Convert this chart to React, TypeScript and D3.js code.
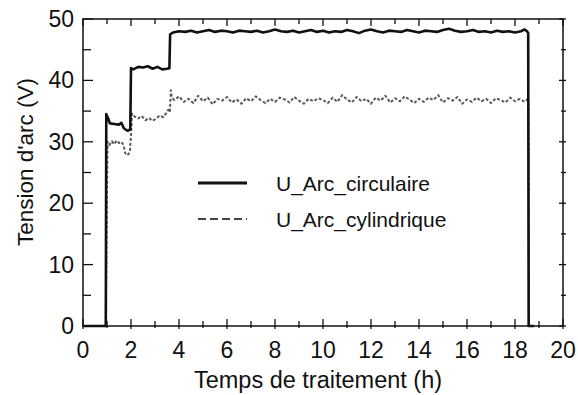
import * as d3 from "d3";

// U_Arc_circulaire: [time (h), voltage (V)]
const CIRC: [number, number][] = [
  [0, 0], [0.95, 0], [0.97, 34.5], [1.05, 33.8], [1.12, 33.0], [1.3, 32.9], [1.5, 32.8],
  [1.6, 33.1], [1.7, 32.2], [1.85, 31.8], [1.97, 32.0], [2.0, 42.0], [2.1, 41.8],
  [2.3, 42.2], [2.5, 42.1], [2.7, 42.3], [2.9, 41.9], [3.1, 42.2], [3.3, 41.8],
  [3.5, 41.9], [3.6, 42.0], [3.63, 47.5],
  [3.75, 47.8], [4.0, 48.0], [4.25, 47.9], [4.5, 48.1], [4.75, 47.8], [5.0, 48.0],
  [5.25, 48.2], [5.5, 47.9], [5.75, 48.1], [6.0, 48.0], [6.25, 47.8], [6.5, 48.1],
  [6.75, 48.0], [7.0, 47.9], [7.25, 48.1], [7.5, 47.8], [7.75, 48.0], [8.0, 48.3],
  [8.25, 48.0], [8.5, 47.9], [8.75, 48.1], [9.0, 47.8], [9.25, 48.0], [9.5, 48.2],
  [9.75, 47.9], [10.0, 48.1], [10.25, 47.8], [10.5, 48.0], [10.75, 47.9], [11.0, 48.2],
  [11.25, 48.0], [11.5, 47.7], [11.75, 48.1], [12.0, 48.3], [12.25, 48.0], [12.5, 47.8],
  [12.75, 48.1], [13.0, 48.0], [13.25, 47.9], [13.5, 48.2], [13.75, 48.0], [14.0, 47.8],
  [14.25, 48.1], [14.5, 48.0], [14.75, 47.9], [15.0, 48.2], [15.25, 48.4], [15.5, 48.1],
  [15.75, 47.9], [16.0, 48.0], [16.25, 48.2], [16.5, 47.9], [16.75, 48.0], [17.0, 47.8],
  [17.25, 48.1], [17.5, 47.9], [17.75, 48.0], [18.0, 47.8], [18.25, 48.0], [18.4, 48.3],
  [18.5, 48.0], [18.55, 47.7], [18.57, 0], [18.8, 0],
];

// U_Arc_cylindrique: [time (h), voltage (V)]
const CYL: [number, number][] = [
  [0, 0], [0.95, 0], [1.0, 22], [1.02, 30], [1.1, 29.5], [1.2, 30.1], [1.3, 29.6],
  [1.4, 30.2], [1.5, 29.8], [1.6, 30.0], [1.7, 29.4], [1.75, 28.2], [1.85, 27.8],
  [1.95, 28.3], [2.0, 31], [2.04, 34.6], [2.15, 34.1], [2.3, 33.8], [2.45, 34.2],
  [2.6, 33.5], [2.75, 33.9], [2.9, 33.4], [3.05, 33.8], [3.2, 34.3], [3.35, 34.0],
  [3.45, 34.6], [3.55, 35.2], [3.62, 34.8], [3.66, 38.4], [3.7, 37.2],
  [3.8, 36.8], [4.0, 37.4], [4.2, 36.5], [4.4, 37.0], [4.6, 36.3], [4.8, 37.5],
  [5.0, 36.6], [5.2, 37.2], [5.4, 36.1], [5.6, 37.0], [5.8, 36.7], [6.0, 37.3],
  [6.2, 36.4], [6.4, 36.9], [6.6, 36.2], [6.8, 37.1], [7.0, 36.6], [7.2, 37.4],
  [7.4, 36.8], [7.6, 36.3], [7.8, 37.0], [8.0, 36.5], [8.2, 37.2], [8.4, 36.9],
  [8.6, 36.4], [8.8, 37.3], [9.0, 36.7], [9.2, 36.2], [9.4, 37.0], [9.6, 36.6],
  [9.8, 37.1], [10.0, 36.8], [10.2, 36.3], [10.4, 37.2], [10.6, 36.5], [10.8, 37.6],
  [11.0, 36.9], [11.2, 36.4], [11.4, 37.3], [11.6, 36.6], [11.8, 37.0], [12.0, 36.2],
  [12.2, 37.2], [12.4, 36.7], [12.6, 37.5], [12.8, 36.4], [13.0, 37.1], [13.2, 36.6],
  [13.4, 37.4], [13.6, 36.9], [13.8, 36.3], [14.0, 37.0], [14.2, 36.5], [14.4, 37.2],
  [14.6, 36.8], [14.8, 37.6], [15.0, 36.4], [15.2, 37.1], [15.4, 36.7], [15.6, 37.3],
  [15.8, 36.2], [16.0, 36.9], [16.2, 36.5], [16.4, 37.2], [16.6, 36.6], [16.8, 37.0],
  [17.0, 36.3], [17.2, 37.1], [17.4, 36.8], [17.6, 36.4], [17.8, 37.2], [18.0, 36.6],
  [18.2, 37.0], [18.4, 36.5], [18.5, 36.9], [18.56, 36.2], [18.58, 0], [18.8, 0],
];

const X_TICKS = [0, 2, 4, 6, 8, 10, 12, 14, 16, 18, 20];
const X_MINOR = [1, 3, 5, 7, 9, 11, 13, 15, 17, 19];
const Y_TICKS = [0, 10, 20, 30, 40, 50];
const Y_MINOR = [5, 15, 25, 35, 45];

const LEGEND = [
  { label: "U_Arc_circulaire", dash: "none", color: "#111", width: 3 },
  { label: "U_Arc_cylindrique", dash: "8,4", color: "#444", width: 2 },
];

const FONT = "'Liberation Sans', Arial, sans-serif";

export default function App() {
  const width = 578;
  const height = 395;
  const margin = { top: 19, right: 15, bottom: 69, left: 83 };
  const innerW = width - margin.left - margin.right;
  const innerH = height - margin.top - margin.bottom;

  const x = d3.scaleLinear().domain([0, 20]).range([0, innerW]);
  const y = d3.scaleLinear().domain([0, 50]).range([innerH, 0]);

  const line = d3
    .line<[number, number]>()
    .x((d) => x(d[0]))
    .y((d) => y(d[1]));

  const major = 7;
  const minor = 5;

  return (
    <svg
      width={width}
      height={height}
      style={{ position: "absolute", left: 0, top: 0, background: "#fff" }}
      fontFamily={FONT}
    >
      <g transform={`translate(${margin.left},${margin.top})`}>
        {/* Series */}
        <path
          d={line(CYL) ?? ""}
          fill="none"
          stroke="#5a5a5a"
          strokeWidth={2}
          strokeDasharray="3,2"
          strokeLinejoin="round"
        />
        <path
          d={line(CIRC) ?? ""}
          fill="none"
          stroke="#111"
          strokeWidth={2.6}
          strokeLinejoin="round"
        />

        {/* Frame */}
        <rect x={0} y={0} width={innerW} height={innerH} fill="none" stroke="#111" strokeWidth={1.5} />

        {/* X ticks (bottom and top) */}
        {X_TICKS.map((t) => (
          <g key={`xt${t}`} stroke="#111" strokeWidth={1.3}>
            <line x1={x(t)} x2={x(t)} y1={innerH + 3} y2={innerH - major} />
            <line x1={x(t)} x2={x(t)} y1={0} y2={major} />
          </g>
        ))}
        {X_MINOR.map((t) => (
          <g key={`xm${t}`} stroke="#111" strokeWidth={1.3}>
            <line x1={x(t)} x2={x(t)} y1={innerH + 2} y2={innerH - minor} />
            <line x1={x(t)} x2={x(t)} y1={0} y2={minor} />
          </g>
        ))}
        {/* Y ticks (left and right) */}
        {Y_TICKS.map((t) => (
          <g key={`yt${t}`} stroke="#111" strokeWidth={1.3}>
            <line x1={0} x2={major + 3} y1={y(t)} y2={y(t)} />
            <line x1={innerW - major + 3} x2={innerW + 3} y1={y(t)} y2={y(t)} />
          </g>
        ))}
        {Y_MINOR.map((t) => (
          <g key={`ym${t}`} stroke="#111" strokeWidth={1.3}>
            <line x1={0} x2={minor + 3} y1={y(t)} y2={y(t)} />
            <line x1={innerW - minor + 3} x2={innerW + 3} y1={y(t)} y2={y(t)} />
          </g>
        ))}

        {/* Tick labels */}
        {X_TICKS.map((t) => (
          <text key={`xl${t}`} x={x(t)} y={innerH + 32} fontSize={23} textAnchor="middle" fill="#111">
            {t}
          </text>
        ))}
        {Y_TICKS.map((t) => (
          <text
            key={`yl${t}`}
            x={-9}
            y={y(t)}
            fontSize={23}
            textAnchor="end"
            dominantBaseline="central"
            fill="#111"
          >
            {t}
          </text>
        ))}

        {/* Legend */}
        {LEGEND.map((l, i) => (
          <g key={l.label} transform={`translate(115,${164 + i * 36})`}>
            <line x1={0} x2={49} y1={0} y2={0} stroke={l.color} strokeWidth={l.width} strokeDasharray={l.dash} />
            <text x={78} y={0} fontSize={21} dominantBaseline="central" fill="#111">
              {l.label}
            </text>
          </g>
        ))}

        {/* Axis titles */}
        <text x={innerW / 2 - 5} y={innerH + 62} fontSize={23.5} textAnchor="middle" fill="#111">
          Temps de traitement (h)
        </text>
        <text
          transform={`translate(${-50},${143}) rotate(-90)`}
          fontSize={22.5}
          textAnchor="middle"
          fill="#111"
        >
          Tension d'arc (V)
        </text>
      </g>
    </svg>
  );
}
